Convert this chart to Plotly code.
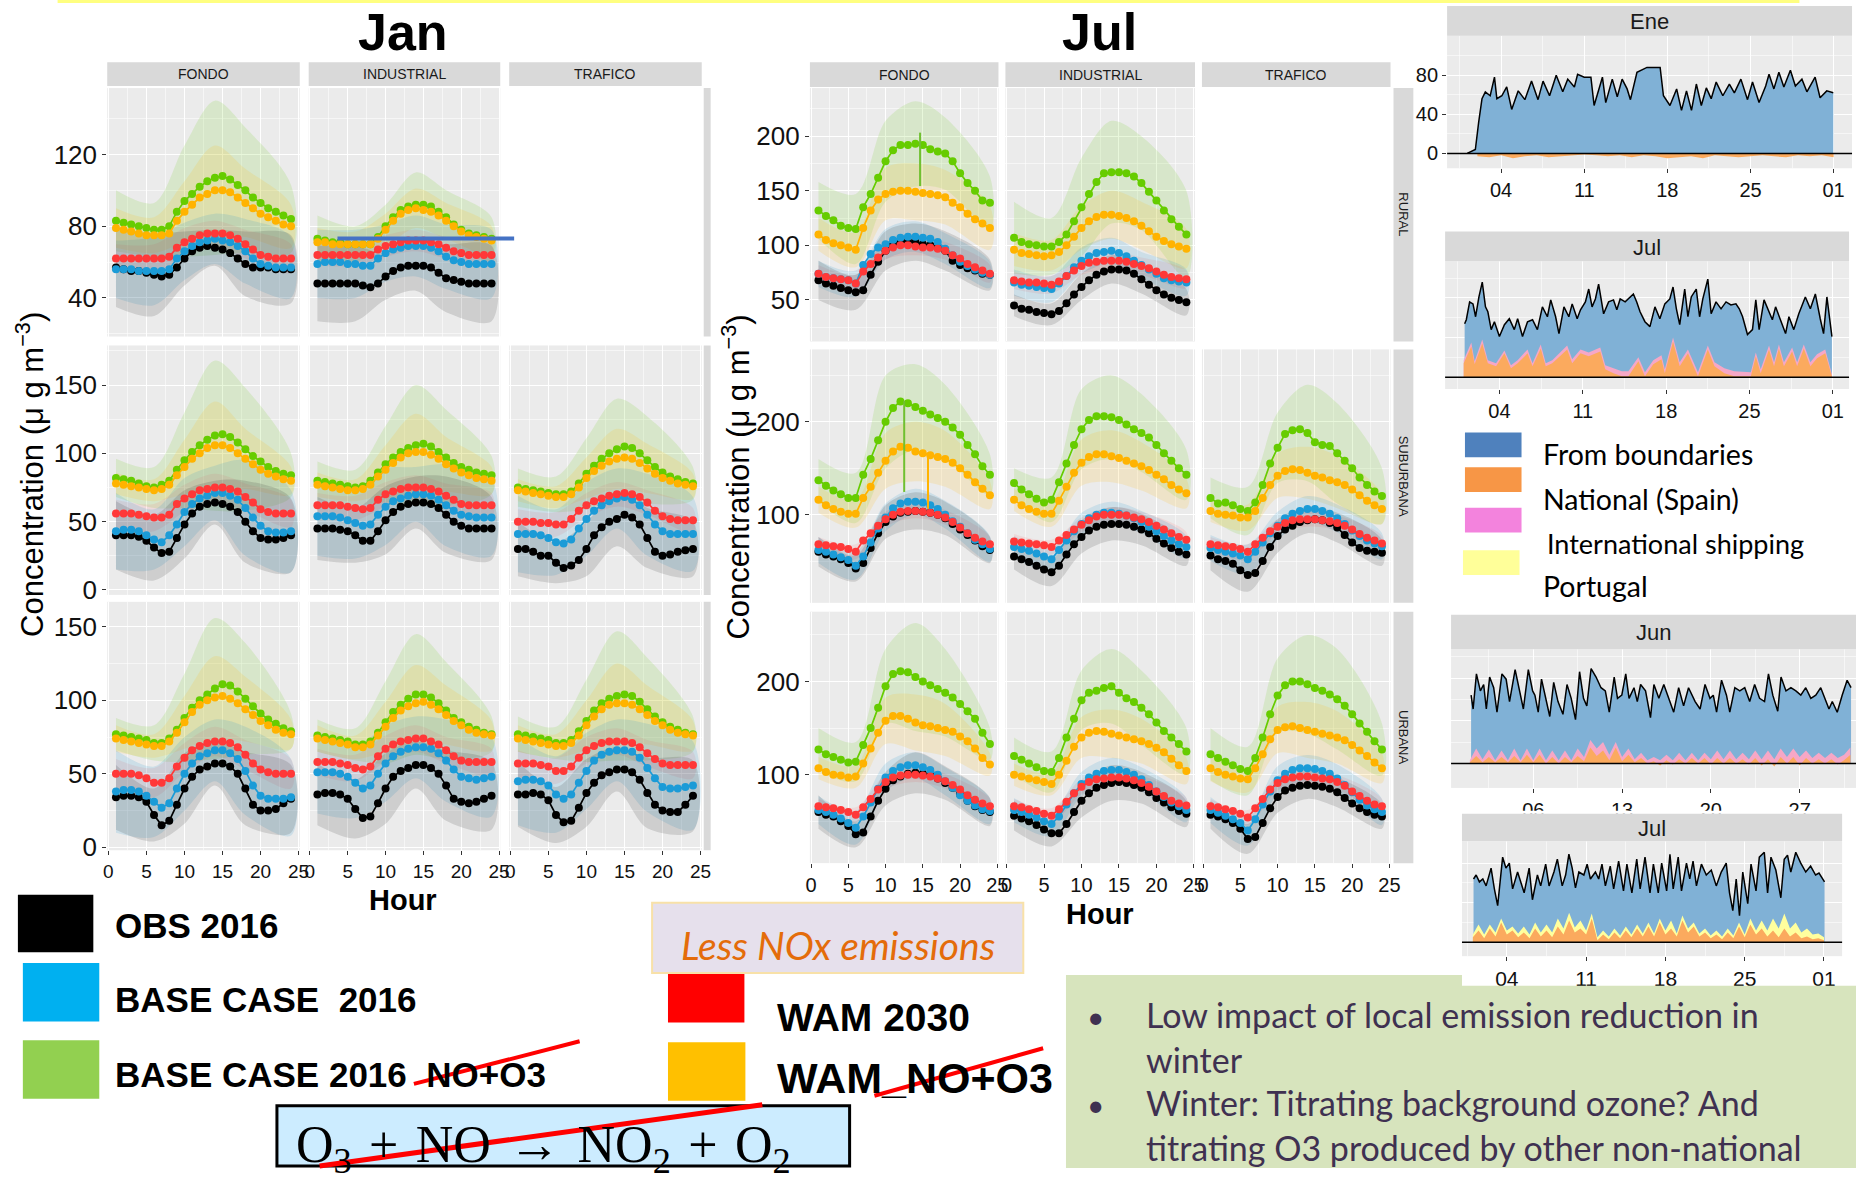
import plotly.graph_objects as go

W, H = 1866, 1180
NARROW = "Liberation Sans Narrow, Arial Narrow, Liberation Sans, Arial, sans-serif"
SANS = "Liberation Sans, Arial, sans-serif"
CAL = "Lato, Open Sans, sans-serif"
SERIF = "Liberation Serif, Times New Roman, serif"

# ---------------- main diurnal panels: hours and series ----------------
HOURS = [1, 2, 3, 4, 5, 6, 7, 8, 9, 10, 11, 12, 13, 14, 15, 16, 17, 18, 19, 20, 21, 22, 23, 24]
RIB_HOURS = [1, 6, 10, 14, 18, 24]
SERIES = ["OBS 2016", "BASE CASE 2016", "BASE CASE 2016 NO+O3", "WAM 2030", "WAM NO+O3"]
LINE_COLORS = ["#000000", "#1B9BD7", "#66CC00", "#FF3838", "#FFB300"]
RIB_COLORS = ["rgba(40,40,40,0.15)", "rgba(30,150,210,0.15)", "rgba(120,210,40,0.17)",
              "rgba(255,90,90,0.12)", "rgba(255,190,30,0.17)"]
COLS = ["FONDO", "INDUSTRIAL", "TRAFICO"]
ROWS = ["RURAL", "SUBURBANA", "URBANA"]

# order in each list: OBS, BASE, BASE NO+O3, WAM, WAM NO+O3
JAN_RURAL_FONDO = [
    [57,56,55,55,54,53,52,53,57,62,66,68,69,68,67,65,62,59,57,57,57,56,56,56],
    [56,56,56,55,55,55,55,56,62,66,69,71,72,73,72,71,69,66,62,59,58,57,57,57],
    [83,82,81,80,79,78,78,80,88,94,98,102,105,107,108,106,103,100,96,93,90,88,86,84],
    [62,62,62,62,62,62,62,63,68,71,73,75,76,76,76,75,73,70,67,64,63,62,62,62],
    [79,78,77,76,75,75,75,76,83,88,92,96,98,100,100,99,96,93,90,87,85,83,81,80]]
JAN_RURAL_FONDO_SD = [[22,23,15,10,18,19],[16,19,16,14,18,17],[17,15,31,43,35,19],[8,8,8,7,8,8],[11,10,17,25,19,12]]
JAN_RURAL_INDUSTRIAL = [
    [48,48,48,48,48,48,47,46,48,52,55,57,58,58,58,57,54,51,50,49,48,48,48,48],
    [59,60,60,60,59,59,58,58,62,65,67,68,69,69,69,68,66,63,61,60,59,59,59,59],
    [73,72,71,71,70,70,70,70,74,80,85,89,91,92,92,91,88,85,81,78,76,75,74,73],
    [64,64,64,64,64,64,64,64,67,69,70,71,72,72,72,71,70,68,66,65,64,64,64,64],
    [71,71,70,70,70,70,70,70,73,78,83,87,89,90,89,88,86,83,80,77,75,74,73,72]]
JAN_RURAL_INDUSTRIAL_SD = [[21,21,13,14,19,21],[19,19,16,17,18,19],[13,10,12,18,15,12],[6,6,6,6,6,6],[8,7,9,11,10,8]]

JAN_SUB_FONDO = [
    [40,40,40,39,36,31,27,28,38,48,56,61,63,64,63,61,57,50,43,38,37,37,38,40],
    [43,44,44,43,40,37,35,40,48,57,63,67,69,71,71,69,66,60,53,47,43,42,42,43],
    [82,81,80,78,76,75,77,80,88,95,101,106,110,113,114,112,108,103,98,94,90,87,85,84],
    [56,56,56,55,54,53,53,55,63,67,70,73,74,75,75,74,72,68,64,59,57,56,56,56],
    [78,77,76,75,74,73,74,77,84,90,96,100,104,106,106,104,100,96,92,88,85,83,81,80]]
JAN_SUB_FONDO_SD = [[25,24,25,16,30,27],[28,22,25,20,35,30],[14,15,35,55,45,16],[10,10,10,10,10,10],[8,8,20,32,22,10]]
JAN_SUB_INDUSTRIAL = [
    [45,45,45,44,43,40,36,36,43,51,57,61,63,64,64,63,60,55,50,47,45,45,45,45],
    [54,54,54,53,51,49,47,48,55,61,65,67,69,70,70,69,66,62,58,55,54,53,53,53],
    [80,79,78,77,76,75,76,80,86,92,97,101,104,106,107,105,101,97,93,90,88,86,85,84],
    [62,62,62,62,61,60,59,60,66,70,72,74,75,75,75,74,72,69,66,63,62,62,62,62],
    [77,76,75,74,73,73,74,77,83,88,93,97,100,101,101,99,96,92,89,86,84,82,81,80]]
JAN_SUB_INDUSTRIAL_SD = [[23,20,25,19,28,23],[29,26,28,20,30,28],[14,13,28,44,35,14],[9,9,9,9,9,9],[9,8,18,28,20,10]]
JAN_SUB_TRAFICO = [
    [30,30,28,25,25,20,16,18,22,30,40,46,50,52,55,53,48,38,28,25,26,28,29,30],
    [41,41,41,40,38,35,34,37,45,52,58,62,65,67,68,66,62,55,48,43,41,41,41,41],
    [75,74,73,72,71,70,70,72,78,85,91,96,100,103,105,104,100,95,90,86,83,81,79,78],
    [50,50,50,49,49,48,48,52,58,62,65,67,69,70,71,70,68,64,58,54,52,51,51,51],
    [73,72,71,70,69,68,68,70,75,82,87,91,94,96,97,96,93,89,85,82,80,78,77,76]]
JAN_SUB_TRAFICO_SD = [[20,15,20,20,22,20],[28,24,27,22,30,27],[14,13,26,37,32,12],[9,9,9,9,9,9],[8,8,15,22,18,9]]

JAN_URB_FONDO = [
    [34,35,35,34,31,22,15,18,29,40,48,53,55,57,57,55,50,40,29,25,25,26,30,33],
    [38,39,39,38,35,31,27,30,40,50,57,62,64,66,66,64,60,52,42,35,33,33,33,34],
    [77,76,75,74,73,71,71,74,80,88,95,100,104,108,111,110,106,101,96,91,87,84,81,79],
    [50,50,50,49,47,44,44,47,55,61,66,69,71,72,72,71,68,63,57,53,51,50,50,50],
    [74,73,72,71,70,69,69,72,78,85,92,97,100,102,103,101,98,94,90,86,83,80,78,77]]
JAN_URB_FONDO_SD = [[22,18,24,15,25,23],[28,24,25,21,30,26],[11,12,30,48,38,12],[10,10,10,10,10,10],[9,8,18,28,22,10]]
JAN_URB_INDUSTRIAL = [
    [36,37,37,36,33,26,20,21,30,40,48,52,54,56,56,54,50,42,33,31,30,31,33,35],
    [51,51,51,50,48,44,40,42,50,57,62,65,67,68,68,67,64,59,53,48,47,46,47,48],
    [76,75,74,73,72,70,70,72,78,85,92,97,101,104,104,102,98,93,88,85,82,80,78,77],
    [58,58,58,57,56,54,53,55,62,67,70,72,73,74,74,72,70,66,62,59,58,58,58,58],
    [74,73,72,71,70,68,68,70,76,82,88,93,96,98,99,97,94,90,86,83,80,78,77,76]]
JAN_URB_INDUSTRIAL_SD = [[21,20,24,16,24,23],[28,24,26,21,28,27],[11,11,28,41,33,12],[9,9,9,9,9,9],[9,8,17,26,20,10]]
JAN_URB_TRAFICO = [
    [36,36,37,36,32,22,17,18,27,37,44,49,51,53,53,51,46,37,29,25,24,24,29,35],
    [45,46,46,45,42,36,33,36,44,52,59,63,65,66,66,65,61,54,47,41,40,40,41,42],
    [77,76,75,74,73,71,71,73,79,86,93,98,101,103,104,103,99,94,89,85,82,80,78,77],
    [57,57,57,56,55,52,52,55,61,66,69,71,72,72,72,71,68,64,60,57,56,56,56,56],
    [74,73,72,71,70,69,69,71,76,83,89,94,97,98,98,97,94,90,86,83,80,78,77,76]]
JAN_URB_TRAFICO_SD = [[22,19,23,15,24,24],[30,26,26,21,30,30],[12,11,28,44,35,12],[9,9,9,9,9,9],[9,8,17,27,20,10]]

JUL_RURAL_FONDO = [
    [68,65,63,61,59,57,59,73,85,95,101,103,104,103,101,100,98,95,86,82,79,77,74,73],
    [74,71,70,69,68,65,82,92,98,101,105,107,108,108,107,106,103,97,91,85,81,78,75,73],
    [132,127,123,118,116,115,135,147,162,177,187,192,192,193,192,188,186,184,177,166,157,150,141,139],
    [74,71,70,69,68,65,76,83,89,95,98,100,100,99,98,98,97,95,91,88,83,80,77,74],
    [110,105,102,100,98,96,116,132,142,147,149,150,150,149,148,147,146,144,139,135,129,124,120,116]]
JUL_RURAL_FONDO_SD = [[18,16,18,17,18,14],[12,12,14,14,14,12],[26,32,37,39,33,24],[8,8,8,8,8,8],[15,16,24,26,25,20]]
JUL_RURAL_INDUSTRIAL = [
    [45,42,41,39,38,37,40,47,55,62,68,73,76,78,78,77,74,69,64,59,55,52,50,48],
    [66,64,63,62,61,60,65,72,80,86,90,93,94,95,93,90,86,82,78,74,70,68,67,66],
    [107,103,101,100,99,99,103,110,122,135,147,158,166,167,167,166,163,157,149,141,132,124,117,110],
    [68,67,66,66,65,64,67,72,77,81,84,85,86,86,86,85,83,81,79,76,73,71,70,69],
    [96,93,92,91,90,91,94,100,108,116,122,126,128,128,127,125,122,118,113,108,104,101,99,97]]
JUL_RURAL_INDUSTRIAL_SD = [[10,10,12,13,13,12],[12,12,12,12,12,12],[33,26,45,47,43,40],[8,8,8,8,8,8],[15,14,20,22,22,18]]

JUL_SUB_FONDO = [
    [60,57,55,52,48,42,48,64,80,92,98,102,103,104,103,102,100,96,90,84,78,72,66,62],
    [62,60,57,54,51,45,55,70,85,97,107,112,114,114,113,110,106,100,93,87,80,73,68,63],
    [137,131,126,122,118,118,143,160,180,200,215,222,220,216,212,208,204,200,194,186,175,165,152,143],
    [68,67,66,65,63,60,72,80,88,95,100,103,104,104,103,102,100,97,92,86,80,75,71,68],
    [116,110,106,103,101,101,118,130,145,158,168,173,172,168,166,164,162,160,156,150,143,135,128,121]]
JUL_SUB_FONDO_SD = [[16,14,18,20,18,14],[14,15,15,14,15,14],[23,27,50,46,40,22],[8,8,8,8,8,8],[14,15,30,32,30,15]]
JUL_SUB_INDUSTRIAL = [
    [55,52,49,45,41,38,45,57,68,76,83,87,89,90,90,89,87,84,80,74,69,64,60,57],
    [65,63,61,58,55,52,62,72,82,90,96,100,102,102,101,99,96,92,87,82,77,72,68,65],
    [134,127,122,117,113,116,135,155,175,192,202,206,206,205,202,197,192,188,183,175,166,158,150,143],
    [71,70,69,68,67,65,72,78,84,89,94,98,100,100,100,99,97,95,92,88,84,80,76,73],
    [116,110,106,103,101,101,115,130,145,156,162,165,165,163,161,158,155,152,148,143,138,132,127,123]]
JUL_SUB_INDUSTRIAL_SD = [[14,15,18,18,17,12],[12,12,12,12,12,12],[16,24,43,45,42,27],[8,8,8,8,8,8],[12,14,25,28,26,16]]
JUL_SUB_TRAFICO = [
    [56,52,50,47,40,35,37,50,65,77,84,88,92,94,95,94,91,86,78,70,64,61,60,59],
    [64,62,60,58,56,52,60,70,80,88,96,101,104,106,106,104,101,96,90,83,77,72,69,66],
    [118,112,113,110,106,104,113,132,155,172,187,191,192,188,178,175,174,166,158,150,140,132,125,120],
    [68,67,66,65,63,60,68,75,82,87,91,94,95,95,95,94,93,91,88,84,79,75,72,69],
    [104,101,100,99,97,97,104,118,132,142,147,149,148,145,142,140,137,135,132,127,121,115,110,106]]
JUL_SUB_TRAFICO_SD = [[16,18,18,14,16,14],[14,16,15,14,15,14],[22,26,38,52,54,30],[8,8,8,8,8,8],[12,14,24,28,28,16]]

JUL_URB_FONDO = [
    [60,57,55,50,45,36,38,55,72,85,94,98,101,102,101,99,96,91,86,79,72,66,62,60],
    [62,60,57,53,48,43,55,70,85,97,104,108,110,110,108,105,100,93,86,78,72,67,63,61],
    [127,122,119,116,113,114,132,150,172,195,208,211,210,205,200,196,192,188,183,176,168,160,145,133],
    [66,65,64,62,60,57,65,74,84,92,97,99,100,100,99,98,96,93,89,84,78,73,69,66],
    [107,103,100,99,97,98,112,128,145,158,163,163,160,156,153,152,150,148,146,141,136,128,118,111]]
JUL_URB_FONDO_SD = [[18,14,18,22,18,15],[15,18,15,14,15,14],[23,21,40,58,47,17],[8,8,8,8,8,8],[12,12,25,30,28,12]]
JUL_URB_INDUSTRIAL = [
    [56,53,50,46,41,37,37,47,60,72,80,86,89,91,92,91,89,86,81,75,70,65,61,58],
    [62,60,57,54,50,47,55,68,80,90,97,101,104,105,105,103,100,95,89,82,76,70,66,62],
    [120,116,112,108,104,103,118,140,160,180,188,190,193,195,188,182,178,172,165,156,147,140,133,125],
    [66,65,63,61,58,56,63,71,80,87,92,95,96,97,97,96,94,91,87,82,77,72,69,67],
    [100,98,96,94,92,90,100,115,130,140,145,147,146,144,142,140,138,136,133,129,124,117,110,104]]
JUL_URB_INDUSTRIAL_SD = [[16,14,18,19,17,14],[13,13,13,13,13,13],[20,22,32,40,40,25],[8,8,8,8,8,8],[12,12,22,26,24,14]]
JUL_URB_TRAFICO = [
    [57,55,52,48,42,31,33,48,64,76,83,86,88,89,88,87,85,81,75,69,64,60,57,55],
    [62,59,56,52,48,40,52,68,82,94,101,105,107,107,106,104,101,96,89,81,73,67,63,60],
    [122,118,114,110,106,104,118,140,165,185,196,200,200,197,193,190,186,181,174,165,155,146,136,127],
    [66,65,63,61,58,54,64,74,84,91,95,97,98,98,97,96,95,92,88,82,77,72,68,66],
    [107,103,100,98,96,95,107,122,138,148,151,152,150,148,146,144,142,140,137,132,126,120,113,107]]
JUL_URB_TRAFICO_SD = [[15,16,17,15,16,13],[14,16,15,14,15,14],[28,26,40,53,54,28],[8,8,8,8,8,8],[14,14,25,30,28,16]]

# ---------------- source-apportionment time series (right side) ----------------
ENE_DAY = [1.14,1.83,2.11,2.39,2.67,3.08,3.44,3.64,4.06,4.47,4.89,5.44,6.0,6.56,7.11,7.53,8.08,8.64,9.19,9.61,
           10.17,10.44,11.0,11.56,11.83,12.53,12.81,13.36,13.78,14.19,14.61,14.89,15.44,16.28,17.39,17.67,18.22,18.78,19.19,19.61,
           20.03,20.44,20.86,21.28,21.69,22.11,22.67,23.22,23.64,24.19,24.75,25.17,25.72,26.28,26.56,26.97,27.39,27.81,28.36,28.78,
           29.33,29.75,30.44,30.86,31.42,31.97]
ENE_TOTAL = [0,4,32,56,63,59,78,56,59,68,45,64,55,74,55,74,59,80,63,76,68,81,78,78,49,78,52,76,58,76,66,55,83,88,88,59,49,66,44,64,
             44,71,49,67,56,73,59,71,62,76,55,73,52,69,81,66,83,68,85,69,76,63,78,57,64,62]
ENE_NAT_DAY = [2,3,4,5,6,7,8,9,10,11,12,13,14,15,16,17,18,19,20,21,22,23,24,25,26,27,28,29,30,31,32]
ENE_NAT = [-3,-4,-2,-5,-3,-2,-4,-3,-2,-1,-2,-3,-2,-4,-2,-3,-5,-4,-3,-5,-2,-3,-4,-3,-2,-3,-4,-2,-3,-2,-4]

JULA_DAY = [1.08,1.22,1.5,1.78,2.0,2.28,2.56,2.83,3.03,3.31,3.58,4.0,4.42,4.83,5.25,5.53,5.94,6.36,6.78,7.19,
            7.61,8.03,8.31,8.72,9.0,9.42,9.83,10.11,10.53,10.81,11.22,11.5,11.78,12.06,12.33,12.75,13.17,13.58,13.86,14.14,
            14.56,14.97,15.25,15.53,15.81,16.22,16.64,17.06,17.47,17.89,18.31,18.58,18.86,19.14,19.56,19.83,20.11,20.53,20.81,21.08,
            21.5,21.78,22.19,22.61,23.03,23.44,23.86,24.14,24.42,24.83,25.25,25.53,25.81,26.22,26.64,26.92,27.19,27.61,28.03,28.31,
            28.72,29.14,29.69,30.11,30.53,30.94,31.22,31.5,31.92]
JULA_TOTAL = [54,58,76,74,61,81,96,71,66,48,56,41,53,59,48,59,41,56,58,48,71,61,78,61,44,71,61,74,59,68,
              76,89,71,79,94,64,76,78,68,79,76,81,84,76,66,56,51,71,59,74,79,91,69,53,89,61,81,89,61,79,
              99,64,76,69,76,73,74,69,61,43,48,78,48,78,66,58,71,58,44,61,48,64,81,69,84,59,44,81,41]
JULA_LAYER_DAY = [1.0,1.64,1.92,2.56,3.03,3.72,4.42,4.97,5.53,6.36,6.78,7.47,7.89,8.44,9.69,10.11,10.81,11.5,12.47,12.89,
                  13.58,14.28,14.83,15.67,16.22,16.92,17.61,17.89,18.58,19.14,19.83,20.39,20.67,21.5,22.06,22.89,23.72,25.11,25.53,25.94,
                  26.64,27.06,27.47,27.89,28.58,29.0,29.56,30.11,30.67,31.36,31.92]
JULA_NAT = [14,31,13,34,14,11,24,9,14,24,11,29,11,14,28,14,24,21,26,8,4,1,1,16,1,13,18,4,36,11,
            24,8,1,28,11,4,1,1,21,4,28,11,29,11,26,11,29,11,19,24,1]
JULA_SHIP = [17,35,16,38,17,14,27,12,17,28,14,33,14,17,32,18,28,25,30,12,9,6,6,20,5,17,22,8,40,15,
             28,12,5,32,15,9,6,5,25,8,32,15,33,15,30,15,33,15,23,28,3]

JUN_DAY = [1.1,1.26,1.52,1.83,2.09,2.30,2.56,2.88,3.14,3.53,3.86,4.13,4.57,4.91,5.22,5.61,5.95,6.13,6.39,6.65,
           6.91,7.30,7.61,7.95,8.34,8.66,8.99,9.33,9.65,9.96,10.22,10.56,10.95,11.34,11.68,11.99,12.38,12.64,12.98,13.29,
           13.55,13.94,14.20,14.46,14.85,15.24,15.51,15.90,16.29,16.68,17.07,17.46,17.85,18.24,18.76,19.15,19.54,19.93,20.19,20.45,
           20.84,21.23,21.49,21.89,22.28,22.67,23.06,23.45,23.84,24.23,24.54,24.88,25.27,25.53,25.92,26.31,26.70,27.09,27.48,27.88,
           28.27,28.66,29.05,29.31,29.57,29.96,30.35,30.74,31.05]
JUN_TOTAL = [64,51,84,68,74,51,81,71,48,84,79,58,88,68,51,88,68,64,48,79,64,44,76,58,46,74,61,41,86,61,
             54,89,81,71,68,48,81,61,64,84,61,71,58,74,68,43,74,61,74,61,48,71,54,71,58,51,74,61,64,48,
             78,64,48,71,68,71,58,74,61,58,84,64,49,81,68,71,68,64,71,61,64,71,58,51,58,48,64,78,71]
JUN_LAYER_DAY = [1.0,1.5,2.0,2.5,3.0,3.5,4.0,4.5,5.0,5.5,6.0,6.5,7.0,7.5,8.0,8.5,9.0,9.5,10.0,10.5,
                 11.0,11.5,12.0,12.5,13.0,13.5,14.0,14.5,15.0,15.5,16.0,16.5,17.0,17.5,18.0,18.5,19.0,19.5,20.0,20.5,
                 21.0,21.5,22.0,22.5,23.0,23.5,24.0,24.5,25.0,25.5,26.0,26.5,27.0,27.5,28.0,28.5,29.0,29.5,30.0,30.5,31.0]
JUN_SHIP = [3,14,4,13,3,12,3,14,3,14,3,14,3,12,3,12,3,14,6,22,14,20,8,20,6,14,4,10,3,6,
            3,8,3,10,3,10,3,10,4,12,4,12,4,10,4,12,4,12,4,14,6,14,6,12,5,10,5,10,5,8,15]
JUN_NAT = [1,7,1,6,1,6,1,7,1,8,1,8,0,6,0,6,1,7,2,15,7,12,3,15,2,8,1,5,0,2,
           -2,3,-1,4,0,5,0,5,-1,5,0,5,0,4,-1,5,-2,4,-3,6,0,6,-2,5,0,4,0,4,-1,3,8]

JULB_DAY = [1.06,1.29,1.58,1.88,2.17,2.61,2.90,3.19,3.63,3.92,4.22,4.51,4.95,5.24,5.53,5.97,6.26,6.70,6.99,7.43,
            7.73,8.16,8.46,8.89,9.19,9.48,9.77,10.06,10.36,10.80,11.09,11.38,11.82,12.11,12.40,12.70,13.13,13.43,13.87,14.30,
            14.60,15.04,15.47,15.77,16.20,16.64,16.94,17.37,17.67,18.11,18.40,18.69,19.13,19.42,19.86,20.15,20.44,20.74,21.18,21.61,
            22.05,22.49,22.93,23.37,23.66,23.95,24.25,24.54,24.83,25.27,25.56,26.00,26.29,26.73,27.02,27.32,27.75,28.19,28.49,28.78,
            29.07,29.51,29.95,30.39,30.82,31.26,31.56,32.05]
JULB_TOTAL = [64,68,61,64,57,75,54,37,86,75,80,54,71,61,50,75,43,68,57,79,57,71,84,57,68,89,75,55,71,68,
              79,64,71,64,79,57,77,54,82,52,79,50,84,54,86,50,79,50,80,52,89,54,86,52,80,64,82,57,79,68,
              73,57,71,80,50,32,64,27,71,39,79,52,86,91,50,86,73,45,84,88,71,91,80,71,77,68,70,61]
JULB_LAYER_DAY = [1.0,1.5,2.0,2.5,3.0,3.5,4.0,4.5,5.0,5.5,6.0,6.5,7.0,7.5,8.0,8.5,9.0,9.5,10.0,10.5,
                  11.0,11.5,12.0,12.5,13.0,13.5,14.0,14.5,15.0,15.5,16.0,16.5,17.0,17.5,18.0,18.5,19.0,19.5,20.0,20.5,
                  21.0,21.5,22.0,22.5,23.0,23.5,24.0,24.5,25.0,25.5,26.0,26.5,27.0,27.5,28.0,28.5,29.0,29.5,30.0,30.5,
                  31.0,31.5,32.0]
JULB_NAT = [5,12,4,14,6,20,8,12,5,10,4,14,6,12,5,16,8,22,10,14,8,24,2,8,3,10,4,12,5,14,
            6,16,6,20,8,14,6,22,10,16,6,10,4,8,3,10,4,16,5,18,8,14,6,12,5,14,6,10,4,6,3,4,2]
JULB_PORT = [8,18,8,18,10,24,12,16,9,16,8,20,10,18,10,24,14,30,15,22,12,29,5,12,6,14,7,16,8,18,
             9,20,9,24,12,22,9,27,14,20,9,14,7,12,6,14,7,20,8,24,12,22,12,24,14,29,14,20,10,14,8,9,5]

TS_TICKS_JUL = [4, 11, 18, 25, 32]
TS_LABELS_JUL = ["04", "11", "18", "25", "01"]
TS_TICKS_JUN = [6, 13, 20, 27]
TS_LABELS_JUN = ["06", "13", "20", "27"]

SRC_LABELS = ["From boundaries", "National (Spain)", "International shipping", "Portugal"]
SRC_KEY_COLORS = ["#4F81BD", "#F79646", "#F383DD", "#FFFF99"]
FILL_BLUE, FILL_ORANGE, FILL_PINK, FILL_YELLOW = "#80B1D6", "#FBAA5E", "#F6A7C6", "#FFFF9E"

# ---------------- figure ----------------
fig = go.Figure()
MINOR = "rgba(255,255,255,0.55)"
axis_n = [0]


def px(x):
    return x / W


def py(y):
    return 1 - y / H


def new_axes(box, xr, yr, xt, xminor, yt, yminor, show_x, show_y, xfs=19, yfs=26,
             xtext=None, xfam=NARROW, yfam=NARROW, zero=False):
    axis_n[0] += 1
    s = "" if axis_n[0] == 1 else str(axis_n[0])
    x0, x1, y0, y1 = box
    fig.update_layout(**{
        "xaxis" + s: dict(domain=[px(x0), px(x1)], anchor="y" + s, range=xr, tickmode="array",
                          tickvals=xt, ticktext=xtext if xtext else [str(v) for v in xt],
                          showticklabels=show_x, ticks="outside" if show_x else "", ticklen=4,
                          tickcolor="#333333", showgrid=True, gridcolor="white", gridwidth=1.3,
                          zeroline=False, showline=False,
                          tickfont=dict(family=xfam, size=xfs, color="#111111"),
                          minor=dict(tickvals=xminor, showgrid=True, gridcolor=MINOR, gridwidth=0.7, ticks="")),
        "yaxis" + s: dict(domain=[py(y1), py(y0)], anchor="x" + s, range=yr, tickmode="array",
                          tickvals=yt, showticklabels=show_y, ticks="outside" if show_y else "", ticklen=4,
                          tickcolor="#333333", showgrid=True, gridcolor="white", gridwidth=1.3,
                          zeroline=zero, zerolinecolor="black", zerolinewidth=1.6, showline=False,
                          tickfont=dict(family=yfam, size=yfs, color="#111111"),
                          minor=dict(tickvals=yminor, showgrid=True, gridcolor=MINOR, gridwidth=0.7, ticks="")),
    })
    return "x" + s, "y" + s


def draw_panel(xa, ya, data, sds):
    for k in [2, 4, 3, 1, 0]:
        mean, sd = data[k], sds[k]
        up = [mean[h - 1] + s for h, s in zip(RIB_HOURS, sd)]
        lo = [mean[h - 1] - s for h, s in zip(RIB_HOURS, sd)]
        fig.add_trace(go.Scatter(x=RIB_HOURS + RIB_HOURS[::-1], y=up + lo[::-1], fill="toself",
                                 fillcolor=RIB_COLORS[k], mode="lines",
                                 line=dict(width=0, shape="spline", smoothing=0.9),
                                 hoverinfo="skip", showlegend=False, xaxis=xa, yaxis=ya))
    for k in [0, 1, 2, 3, 4]:
        fig.add_trace(go.Scatter(x=HOURS, y=data[k], mode="lines+markers", name=SERIES[k],
                                 line=dict(color=LINE_COLORS[k], width=1.7),
                                 marker=dict(color=LINE_COLORS[k], size=8),
                                 showlegend=False, xaxis=xa, yaxis=ya))


XR_H = [-0.15, 25.15]
XT_H = [0, 5, 10, 15, 20, 25]
XM_H = [2.5, 7.5, 12.5, 17.5, 22.5]

JAN_X = [(104, 298), (307, 500), (509, 703)]
JAN_Y = [(89, 340), (349, 601), (608, 859)]
JAN_YR = [[18.5, 157], [-3.6, 179], [-2, 167]]
JAN_YT = [[40, 80, 120], [0, 50, 100, 150], [0, 50, 100, 150]]
JAN_YM = [[20, 60, 100, 140], [25, 75, 125, 175], [25, 75, 125]]
JAN_DATA = [[(JAN_RURAL_FONDO, JAN_RURAL_FONDO_SD), (JAN_RURAL_INDUSTRIAL, JAN_RURAL_INDUSTRIAL_SD), None],
            [(JAN_SUB_FONDO, JAN_SUB_FONDO_SD), (JAN_SUB_INDUSTRIAL, JAN_SUB_INDUSTRIAL_SD), (JAN_SUB_TRAFICO, JAN_SUB_TRAFICO_SD)],
            [(JAN_URB_FONDO, JAN_URB_FONDO_SD), (JAN_URB_INDUSTRIAL, JAN_URB_INDUSTRIAL_SD), (JAN_URB_TRAFICO, JAN_URB_TRAFICO_SD)]]

JUL_X = [(812, 1002), (1009, 1200), (1207, 1397)]
JUL_Y = [(89, 345), (353, 609), (618, 872)]
JUL_YR = [[12, 244], [5, 278], [5, 275]]
JUL_YT = [[50, 100, 150, 200], [100, 200], [100, 200]]
JUL_YM = [[25, 75, 125, 175, 225], [50, 150, 250], [50, 150, 250]]
JUL_DATA = [[(JUL_RURAL_FONDO, JUL_RURAL_FONDO_SD), (JUL_RURAL_INDUSTRIAL, JUL_RURAL_INDUSTRIAL_SD), None],
            [(JUL_SUB_FONDO, JUL_SUB_FONDO_SD), (JUL_SUB_INDUSTRIAL, JUL_SUB_INDUSTRIAL_SD), (JUL_SUB_TRAFICO, JUL_SUB_TRAFICO_SD)],
            [(JUL_URB_FONDO, JUL_URB_FONDO_SD), (JUL_URB_INDUSTRIAL, JUL_URB_INDUSTRIAL_SD), (JUL_URB_TRAFICO, JUL_URB_TRAFICO_SD)]]

for (XS, YS, YR, YT, YM, DATA, xfs) in [(JAN_X, JAN_Y, JAN_YR, JAN_YT, JAN_YM, JAN_DATA, 19),
                                        (JUL_X, JUL_Y, JUL_YR, JUL_YT, JUL_YM, JUL_DATA, 20)]:
    for r in range(3):
        for c in range(3):
            xa, ya = new_axes((XS[c][0], XS[c][1], YS[r][0], YS[r][1]), XR_H, YR[r], XT_H, XM_H,
                              YT[r], YM[r], r == 2, c == 0, xfs=xfs, yfs=26)
            if DATA[r][c] is not None:
                draw_panel(xa, ya, DATA[r][c][0], DATA[r][c][1])


# ---- small time-series charts ----
def ts_chart(box, xr, yr, xt, xtext, xminor, yt, yminor, show_y, total_x, total, layers, xfam=SANS, xfs=20):
    xa, ya = new_axes(box, xr, yr, xt, xminor, yt, yminor, True, show_y, xfs=xfs, yfs=20,
                      xtext=xtext, xfam=xfam, yfam=SANS)
    fig.add_trace(go.Scatter(x=total_x, y=total, fill="tozeroy", fillcolor=FILL_BLUE, mode="lines",
                             line=dict(width=0), hoverinfo="skip", showlegend=False, xaxis=xa, yaxis=ya))
    for lx, ly, col in layers:
        fig.add_trace(go.Scatter(x=lx, y=ly, fill="tozeroy", fillcolor=col, mode="lines",
                                 line=dict(width=0), hoverinfo="skip", showlegend=False, xaxis=xa, yaxis=ya))
    fig.add_trace(go.Scatter(x=total_x, y=total, mode="lines", line=dict(color="black", width=1.5),
                             hoverinfo="skip", showlegend=False, xaxis=xa, yaxis=ya))
    fig.add_shape(type="line", xref=xa + " domain", yref=ya, x0=0, x1=1, y0=0, y1=0,
                  line=dict(color="black", width=1.5), layer="above")


JUL_MINOR_TS = [0.5, 7.5, 14.5, 21.5, 28.5]
ts_chart((1454, 1862, 36, 170), [-0.55, 33.55], [-15.2, 120.5], TS_TICKS_JUL, TS_LABELS_JUL, JUL_MINOR_TS,
         [0, 40, 80], [20, 60, 100], True, ENE_DAY, ENE_TOTAL, [(ENE_NAT_DAY, ENE_NAT, FILL_ORANGE)])
ts_chart((1452, 1859, 264, 393), [-0.56, 33.36], [-12, 117], TS_TICKS_JUL, TS_LABELS_JUL, JUL_MINOR_TS,
         [0, 40, 80], [20, 60, 100], False, JULA_DAY, JULA_TOTAL,
         [(JULA_LAYER_DAY, JULA_SHIP, FILL_PINK), (JULA_LAYER_DAY, JULA_NAT, FILL_ORANGE)])
ts_chart((1458, 1866, 656, 796), [-0.48, 31.44], [-23, 107], TS_TICKS_JUN, TS_LABELS_JUN,
         [2.5, 9.5, 16.5, 23.5, 30.5], [0, 40, 80], [20, 60, 100], False, JUN_DAY, JUN_TOTAL,
         [(JUN_LAYER_DAY, JUN_SHIP, FILL_PINK), (JUN_LAYER_DAY, JUN_NAT, FILL_ORANGE)])
ts_chart((1469, 1852, 850, 966), [0.04, 33.6], [-14, 102], TS_TICKS_JUL, TS_LABELS_JUL, JUL_MINOR_TS,
         [0, 40, 80], [20, 60], False, JULB_DAY, JULB_TOTAL,
         [(JULB_LAYER_DAY, JULB_PORT, FILL_YELLOW), (JULB_LAYER_DAY, JULB_NAT, FILL_ORANGE)], xfam=NARROW, xfs=21)


# ---------------- decorations ----------------
def rect(x0, y0, x1, y1, fill, lc=None, lw=0):
    fig.add_shape(type="rect", xref="paper", yref="paper", x0=px(x0), x1=px(x1), y0=py(y1), y1=py(y0),
                  fillcolor=fill, line=dict(color=lc if lc else fill, width=lw), layer="above")


def seg(x0, y0, x1, y1, color, width):
    fig.add_shape(type="line", xref="paper", yref="paper", x0=px(x0), x1=px(x1), y0=py(y0), y1=py(y1),
                  line=dict(color=color, width=width), layer="above")


def ann(text, x, y, size, family, color="black", xanchor="center", weight="normal", style="normal",
        angle=0, dy=None):
    if dy is None:
        dy = 0 if angle else 0.2 * size
    fig.add_annotation(text=text, x=px(x), y=py(y + dy), xref="paper", yref="paper", showarrow=False,
                       xanchor=xanchor, yanchor="middle", textangle=angle,
                       font=dict(size=size, family=family, color=color, weight=weight, style=style))


STRIP = "#D9D9D9"
rect(54, 0, 1809, 3, "#FFFF80")
# facet strips
for i, (a, b) in enumerate(JAN_X):
    rect(a, 63, b, 87, STRIP)
    ann(COLS[i], (a + b) / 2, 75, 14, NARROW, "#1a1a1a", dy=0)
for i, (a, b) in enumerate(JUL_X):
    rect(a, 63, b, 88, STRIP)
    ann(COLS[i], (a + b) / 2, 76, 14, NARROW, "#1a1a1a", dy=0)
for (a, b) in JAN_Y:
    rect(705, a, 712, b, STRIP)
for i, (a, b) in enumerate(JUL_Y):
    rect(1400, a, 1420, b, STRIP)
    ann(ROWS[i], 1410, (a + b) / 2, 13, NARROW, "#1a1a1a", angle=90)

ann("Jan", 402, 30, 52, NARROW, weight="bold", dy=2)
ann("Jul", 1104, 30, 52, NARROW, weight="bold", dy=2)
ann("Hour", 402, 903, 29, NARROW, weight="bold")
ann("Hour", 1104, 918, 29, NARROW, weight="bold")
ann("Concentration (μ g m<sup>−3</sup>)", 26, 479, 31, SANS, angle=-90)
ann("Concentration (μ g m<sup>−3</sup>)", 738, 482, 31, SANS, angle=-90)

# slide marks on the panels
seg(336, 241, 514, 241, "#4472C4", 4)
seg(923, 134, 923, 188, "#70C030", 2)
seg(907, 405, 907, 497, "#70C030", 2)
seg(931, 462, 931, 514, "#FFB300", 2)

# small chart strips
rect(1454, 6, 1862, 36, STRIP)
ann("Ene", 1658, 21, 22, SANS, "#1a1a1a", dy=1)
rect(1452, 234, 1859, 264, STRIP)
ann("Jul", 1655, 249, 22, SANS, "#1a1a1a", dy=1)
rect(1458, 621, 1866, 656, STRIP)
ann("Jun", 1662, 638, 22, SANS, "#1a1a1a", dy=1)
rect(1455, 819, 1866, 822, "white")
rect(1469, 822, 1852, 850, STRIP)
ann("Jul", 1660, 836, 22, SANS, "#1a1a1a", dy=1)

# source legend
KEY_Y = [(437, 462), (472, 497), (513, 538), (556, 581)]
TXT_Y = [455, 500, 545, 588]
for i in range(4):
    x0 = 1472 if i < 3 else 1470
    rect(x0, KEY_Y[i][0], x0 + 57, KEY_Y[i][1], SRC_KEY_COLORS[i])
    ann(SRC_LABELS[i], 1549 if i != 2 else 1553, TXT_Y[i], 28.5 if i != 2 else 27, CAL,
        xanchor="left", dy=4)

# scenario legend
LEG = [("OBS 2016", 14, 904, 90, 962, "#000000", 928),
       ("BASE CASE\u00a0\u00a02016", 19, 973, 96, 1032, "#00B0F0", 1003),
       ("BASE CASE 2016\u00a0\u00a0NO+O3", 19, 1051, 96, 1110, "#92D050", 1079)]
for (t, x0, y0, x1, y1, col, ty) in LEG:
    rect(x0, y0, x1, y1, col)
    ann(t, 110, ty, 35, NARROW, xanchor="left", weight="bold")
rect(669, 983, 746, 1033, "#FF0000")
ann("WAM 2030", 777, 1020, 39, NARROW, xanchor="left", weight="bold")
rect(669, 1053, 747, 1112, "#FFC000")
ann("WAM_NO+O3", 777, 1080, 43, NARROW, xanchor="left", weight="bold")
seg(413, 1095, 580, 1052, "#FF0000", 4)
seg(877, 1107, 1047, 1059, "#FF0000", 4)

rect(653, 912, 1027, 983, "#E6E0EC", "#F8E1A8", 2)
ann("Less NOx emissions", 840, 947, 39, CAL, "#E46C0A", style="italic")

rect(275, 1117, 852, 1178, "#CCECFF", "#000000", 3)
SEP = " \u200a"
ann("O<sub>3</sub>" + SEP + "+" + SEP + "NO" + SEP + "→" + SEP + "NO<sub>2</sub>" + SEP + "+" + SEP + "O<sub>2</sub>",
    544, 1150, 52, SERIF, dy=10)
seg(318, 1178, 764, 1116, "#FF0000", 5)

# conclusions box
rect(1070, 985, 1469, 1180, "#D7E4BD")
rect(1469, 996, 1866, 1180, "#D7E4BD")
BUL = [("Low impact of local emission reduction in", 1020, True), ("winter", 1065, False),
       ("Winter: Titrating background ozone? And", 1109, True),
       ("titrating O3 produced by other non-national", 1154, False)]
for t, y, b in BUL:
    if b:
        ann("•", 1100, y, 30, CAL, "#3F3151")
    ann(t, 1149, y, 34, CAL, "#3F3151", xanchor="left", dy=5)

fig.update_layout(width=W, height=H, margin=dict(l=0, r=0, t=0, b=0), paper_bgcolor="white",
                  plot_bgcolor="#EBEBEB", showlegend=False)
fig.write_html("out.html")
